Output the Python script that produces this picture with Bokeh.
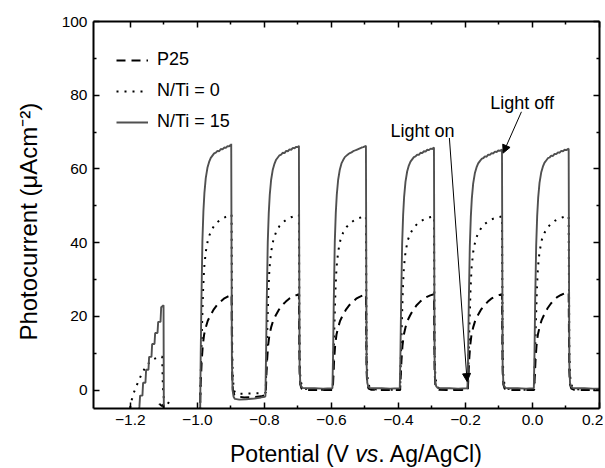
from bokeh.plotting import figure
from bokeh.models import (Range1d, LinearAxis, FixedTicker, Legend, LegendItem,
                          Label, Arrow, NormalHead, ColumnDataSource, Div)
from bokeh.layouts import column
from bokeh.embed import file_html
from bokeh.resources import INLINE

FONT = "Liberation Sans"

# ---------------- data ----------------
# N/Ti = 15 (solid grey)
ti15_x = [
    -1.176, -1.173, -1.171, -1.164, -1.162, -1.155, -1.153, -1.146, -1.144, -1.137,
    -1.135, -1.128, -1.126, -1.119, -1.117, -1.110, -1.108, -1.101, -1.100,
    -0.993, -0.992, -0.990, -0.988, -0.985, -0.982, -0.979, -0.975, -0.970, -0.965, -0.960,
    -0.955, -0.950, -0.945, -0.940, -0.935, -0.930, -0.925, -0.920, -0.915, -0.910,
    -0.905, -0.902, -0.900, -0.899, -0.898, -0.897, -0.895, -0.892, -0.888, -0.875,
    -0.855, -0.830, -0.810, -0.799,
    -0.797, -0.795, -0.793, -0.790, -0.787, -0.784, -0.780, -0.775, -0.770, -0.765,
    -0.760, -0.755, -0.750, -0.745, -0.740, -0.735, -0.730, -0.725, -0.720, -0.715,
    -0.710, -0.705, -0.700, -0.697, -0.696, -0.695, -0.693, -0.690, -0.686, -0.675,
    -0.650, -0.625, -0.598,
    -0.597, -0.595, -0.593, -0.590, -0.587, -0.584, -0.580, -0.575, -0.570, -0.565,
    -0.560, -0.555, -0.550, -0.545, -0.540, -0.535, -0.530, -0.525, -0.520, -0.515,
    -0.510, -0.505, -0.500, -0.497, -0.496, -0.495, -0.493, -0.490, -0.486, -0.475,
    -0.450, -0.425, -0.398,
    -0.396, -0.394, -0.392, -0.389, -0.386, -0.383, -0.379, -0.374, -0.369, -0.364,
    -0.359, -0.354, -0.349, -0.344, -0.339, -0.334, -0.329, -0.324, -0.319, -0.314,
    -0.309, -0.304, -0.299, -0.294, -0.293, -0.292, -0.290, -0.287, -0.283, -0.272,
    -0.247, -0.222, -0.196,
    -0.194, -0.192, -0.190, -0.187, -0.184, -0.181, -0.177, -0.172, -0.167, -0.162,
    -0.157, -0.152, -0.147, -0.142, -0.137, -0.132, -0.127, -0.122, -0.117, -0.112,
    -0.107, -0.102, -0.097, -0.091, -0.090, -0.089, -0.087, -0.084, -0.080, -0.069,
    -0.044, -0.019, 0.003,
    0.004, 0.006, 0.008, 0.011, 0.014, 0.017, 0.021, 0.026, 0.031, 0.036,
    0.041, 0.046, 0.051, 0.056, 0.061, 0.066, 0.071, 0.076, 0.081, 0.086,
    0.091, 0.096, 0.101, 0.108, 0.109, 0.110, 0.112, 0.115, 0.119, 0.130,
    0.155, 0.180, 0.200,
]
ti15_y = [
    -7, -4.5, -1.5, -1.5, 2, 2, 5.5, 5.5, 9, 9,
    12.5, 12.5, 15.5, 15.5, 18.5, 18.5, 22.5, 23, -8,
    -8, -8, 10, 24, 40.5, 48.5, 53.5, 57.5, 60.3, 61.9, 63.0,
    63.6, 64.2, 64.4, 64.9, 64.8, 65.4, 65.3, 65.8, 65.7, 66.2,
    66.1, 66.5, 66.4, 66.8, 35, 8, 0, -1.8, -2.4, -2.6,
    -2.5, -2.3, -2.0, -1.8,
    -1.7, 10, 24, 40, 48, 53, 57, 59.8, 61.4, 62.5,
    63.1, 63.7, 63.9, 64.4, 64.3, 64.9, 64.8, 65.3, 65.2, 65.7,
    65.6, 66.0, 65.9, 66.3, 33, 7, 2, 1, 0.6, 0.5,
    0.5, 0.4, 0.5,
    0.5, 10, 24, 40, 48, 53, 57, 59.8, 61.5, 62.4,
    63.2, 63.6, 64.0, 64.3, 64.5, 64.8, 65.0, 65.2, 65.4, 65.6,
    65.8, 65.9, 66.1, 66.3, 33, 7, 2, 1, 0.6, 0.5,
    0.5, 0.4, 0.5,
    0.5, 10, 24, 39.5, 47.5, 52.5, 56.5, 59.3, 60.9, 62.0,
    62.6, 63.2, 63.4, 63.9, 63.8, 64.4, 64.3, 64.8, 64.7, 65.2,
    65.1, 65.5, 65.4, 65.8, 33, 7, 2, 1, 0.6, 0.5,
    0.5, 0.4, 0.5,
    0.5, 10, 24, 39, 47, 52, 56, 58.8, 60.4, 61.5,
    62.1, 62.7, 62.9, 63.4, 63.3, 63.9, 63.8, 64.3, 64.2, 64.7,
    64.6, 65.0, 64.9, 65.3, 33, 7, 2, 1, 0.6, 0.5,
    0.5, 0.4, 0.5,
    0.5, 10, 24, 39, 47.2, 52.2, 56.2, 59.0, 60.6, 61.7,
    62.3, 62.9, 63.1, 63.6, 63.5, 64.1, 64.0, 64.5, 64.4, 64.9,
    64.8, 65.2, 65.1, 65.5, 33, 7, 2, 1, 0.6, 0.5,
    0.5, 0.4, 0.4,
]

# N/Ti = 0 (dotted)
ti0_x = [
    -1.205, -1.197, -1.190, -1.180, -1.170, -1.160, -1.150, -1.140, -1.130, -1.120,
    -1.110, -1.105, -1.103, -1.100, -1.092, -1.084, -1.078, -1.076,
    -0.992, -0.991, -0.989, -0.986, -0.983, -0.980, -0.975, -0.968, -0.960, -0.950,
    -0.940, -0.928, -0.915, -0.902, -0.898, -0.897, -0.896, -0.894, -0.891, -0.887,
    -0.880, -0.860, -0.830, -0.800,
    -0.796, -0.794, -0.791, -0.788, -0.785, -0.780, -0.773, -0.765, -0.755, -0.745,
    -0.733, -0.720, -0.707, -0.697, -0.696, -0.695, -0.693, -0.690, -0.686, -0.681,
    -0.669, -0.640, -0.598,
    -0.596, -0.594, -0.591, -0.588, -0.585, -0.580, -0.573, -0.565, -0.555, -0.545,
    -0.533, -0.520, -0.507, -0.497, -0.496, -0.495, -0.493, -0.490, -0.486, -0.481,
    -0.469, -0.440, -0.397,
    -0.395, -0.393, -0.390, -0.387, -0.384, -0.379, -0.372, -0.364, -0.354, -0.344,
    -0.332, -0.319, -0.306, -0.294, -0.293, -0.292, -0.290, -0.287, -0.283, -0.278,
    -0.266, -0.237, -0.195,
    -0.193, -0.191, -0.188, -0.185, -0.182, -0.177, -0.170, -0.162, -0.152, -0.142,
    -0.130, -0.117, -0.104, -0.091, -0.090, -0.089, -0.087, -0.084, -0.080, -0.075,
    -0.063, -0.034, 0.004,
    0.005, 0.007, 0.010, 0.013, 0.016, 0.021, 0.028, 0.036, 0.046, 0.056,
    0.068, 0.081, 0.094, 0.108, 0.109, 0.110, 0.112, 0.115, 0.119, 0.124,
    0.136, 0.165, 0.200,
]
ti0_y = [
    -7, -3, -0.8, 1.5, 3.6, 5.4, 6.8, 7.8, 8.4, 8.8,
    9.0, 9.1, 1, -2.5, -3.2, -3.6, -4.0, -8,
    -8, 0, 8, 18, 27, 33, 37.5, 41.0, 43.0, 44.6,
    45.6, 46.4, 47.0, 47.4, 47.6, 28, 10, 3, 0, -0.8,
    -1.0, -1.0, -0.9, -0.8,
    -0.7, 8, 18, 27, 33, 37.5, 40.9, 42.9, 44.5, 45.5,
    46.3, 46.9, 47.3, 47.5, 28, 10, 4, 1.8, 0.8, 0.4,
    0.2, 0.1, 0.1,
    0.1, 8, 18, 27, 33, 37.5, 40.8, 42.7, 44.2, 45.2,
    46.0, 46.6, 47.0, 47.2, 28, 10, 4, 1.8, 0.8, 0.4,
    0.2, 0.1, 0.1,
    0.1, 8, 18, 27, 33, 37.4, 40.7, 42.6, 44.1, 45.1,
    45.9, 46.5, 46.9, 47.1, 28, 10, 4, 1.8, 0.8, 0.4,
    0.2, 0.1, 0.1,
    0.1, 8, 18, 27, 33, 37.4, 40.7, 42.6, 44.1, 45.1,
    45.9, 46.5, 46.9, 47.1, 28, 10, 4, 1.8, 0.8, 0.4,
    0.2, 0.1, 0.1,
    0.1, 8, 18, 27, 33, 37.5, 40.8, 42.7, 44.2, 45.2,
    46.0, 46.6, 47.0, 47.2, 28, 10, 4, 1.8, 0.8, 0.4,
    0.2, 0.1, 0.1,
]

# P25 (dashed)
p25_x = [
    -1.118, -1.113, -1.106, -1.101, -1.099,
    -0.992, -0.991, -0.989, -0.987, -0.984, -0.980, -0.975, -0.969, -0.961, -0.951,
    -0.941, -0.931, -0.921, -0.911, -0.901, -0.898, -0.897, -0.896, -0.894, -0.890,
    -0.883, -0.860, -0.830, -0.810, -0.799,
    -0.796, -0.794, -0.792, -0.789, -0.785, -0.780, -0.774, -0.766, -0.756, -0.746,
    -0.736, -0.726, -0.716, -0.706, -0.697, -0.696, -0.695, -0.693, -0.689, -0.682,
    -0.657, -0.627, -0.598,
    -0.596, -0.594, -0.592, -0.589, -0.585, -0.580, -0.574, -0.566, -0.556, -0.546,
    -0.536, -0.526, -0.516, -0.506, -0.497, -0.496, -0.495, -0.493, -0.489, -0.482,
    -0.457, -0.427, -0.397,
    -0.395, -0.393, -0.391, -0.388, -0.384, -0.379, -0.373, -0.365, -0.355, -0.345,
    -0.335, -0.325, -0.315, -0.305, -0.294, -0.293, -0.292, -0.290, -0.286, -0.279,
    -0.254, -0.224, -0.195,
    -0.193, -0.191, -0.189, -0.186, -0.182, -0.177, -0.171, -0.163, -0.153, -0.143,
    -0.133, -0.123, -0.113, -0.103, -0.091, -0.090, -0.089, -0.087, -0.083, -0.076,
    -0.051, -0.021, 0.004,
    0.005, 0.007, 0.009, 0.012, 0.016, 0.021, 0.027, 0.035, 0.045, 0.055,
    0.065, 0.075, 0.085, 0.095, 0.108, 0.109, 0.110, 0.112, 0.116, 0.123,
    0.148, 0.175, 0.200,
]
p25_y = [
    -8, -3.8, -4.3, -3.9, -8,
    -8, 0, 4, 8, 12, 15, 17, 18.8, 20.3, 21.9,
    23.1, 24.0, 24.8, 25.3, 25.7, 26.0, 14, 4, 0, -1.2,
    -1.7, -2.0, -1.9, -1.7, -1.4,
    -1.2, 4, 8, 12, 15, 17, 18.8, 20.3, 21.9, 23.1,
    24.0, 24.8, 25.3, 25.7, 26.0, 14, 5, 1.5, 0.4, 0.1,
    0, 0, 0,
    0, 4, 8, 12, 15, 17, 18.8, 20.3, 21.9, 23.1,
    24.0, 24.8, 25.3, 25.7, 26.0, 14, 5, 1.5, 0.4, 0.1,
    0, 0, 0,
    0, 4, 8, 12, 15, 17, 18.8, 20.3, 21.9, 23.1,
    24.0, 24.8, 25.3, 25.7, 26.0, 14, 5, 1.5, 0.4, 0.1,
    0, 0, 0,
    0, 4, 8, 12, 15, 17, 18.8, 20.3, 21.9, 23.1,
    24.0, 24.8, 25.3, 25.7, 26.0, 14, 5, 1.5, 0.4, 0.1,
    0, 0, 0,
    0, 4, 8, 12, 15, 17, 18.9, 20.5, 22.2, 23.5,
    24.5, 25.3, 25.8, 26.2, 26.5, 14, 5, 1.5, 0.4, 0.1,
    0, 0, 0,
]

assert len(ti15_x) == len(ti15_y)
assert len(ti0_x) == len(ti0_y)
assert len(p25_x) == len(p25_y)

series_labels = ["P25", "N/Ti = 0", "N/Ti = 15"]

x_ticks = [-1.2, -1.0, -0.8, -0.6, -0.4, -0.2, 0.0, 0.2]
x_tick_labels = ["\u22121.2", "\u22121.0", "\u22120.8", "\u22120.6", "\u22120.4", "\u22120.2", "0.0", "0.2"]
x_minor = [-1.1, -0.9, -0.7, -0.5, -0.3, -0.1, 0.1]
y_ticks = [0, 20, 40, 60, 80, 100]
y_tick_labels = ["0", "20", "40", "60", "80", "100"]
y_minor = [10, 30, 50, 70, 90]

# annotation anchors (data units)
light_on_text = (-0.328, 70.4)
light_on_arrow = (-0.248, 68.4, -0.195, 2.3)
light_off_text = (-0.031, 78.0)
light_off_arrow = (-0.033, 75.5, -0.0875, 64.3)

# ---------------- figure ----------------
p = figure(frame_width=506, frame_height=387,
           x_range=Range1d(-1.31, 0.2), y_range=Range1d(-5, 100),
           output_backend="svg", toolbar_location=None)
p.min_border_left = 93
p.min_border_right = 4
p.min_border_top = 21
p.min_border_bottom = 29
p.xgrid.visible = False
p.ygrid.visible = False
p.outline_line_color = None
p.background_fill_color = "white"
p.border_fill_color = "white"

bottom_axis = p.below[0]
left_axis = p.left[0]
top_axis = LinearAxis()
right_axis = LinearAxis()
p.add_layout(top_axis, "above")
p.add_layout(right_axis, "right")


def style_axis(ax, ticks, minor, labels, show):
    ax.ticker = FixedTicker(ticks=ticks, minor_ticks=minor)
    ax.axis_line_width = 2
    ax.axis_line_color = "black"
    ax.major_tick_in = 6
    ax.major_tick_out = 0
    ax.minor_tick_in = 3
    ax.minor_tick_out = 0
    ax.major_tick_line_width = 1.5
    ax.minor_tick_line_width = 1.5
    ax.major_tick_line_color = "black"
    ax.minor_tick_line_color = "black"
    ax.major_label_text_font = FONT
    ax.major_label_text_color = "black"
    ax.major_label_text_font_size = "15.5px"
    if show:
        ax.major_label_overrides = dict(zip(ticks, labels))
        ax.major_label_standoff = 6
    else:
        ax.major_label_overrides = {t: "" for t in ticks}
        ax.major_label_standoff = 0


style_axis(bottom_axis, x_ticks, x_minor, x_tick_labels, True)
style_axis(top_axis, x_ticks, x_minor, x_tick_labels, False)
style_axis(left_axis, y_ticks, y_minor, y_tick_labels, True)
style_axis(right_axis, y_ticks, y_minor, y_tick_labels, False)

left_axis.axis_label = "Photocurrent (\u03bcAcm\u207b\u00b2)\u00a0\u00a0"
left_axis.axis_label_text_font = FONT
left_axis.axis_label_text_font_size = "24px"
left_axis.axis_label_text_font_style = "normal"
left_axis.axis_label_text_color = "black"
left_axis.axis_label_standoff = 17

# ---------------- curves ----------------
r_p25 = p.line(x="x", y="y", source=ColumnDataSource(dict(x=p25_x, y=p25_y)),
               line_color="black", line_width=2, line_dash="9 6")
r_ti0 = p.line(x="x", y="y", source=ColumnDataSource(dict(x=ti0_x, y=ti0_y)),
               line_color="black", line_width=2, line_dash="2 6")
r_ti15 = p.line(x="x", y="y", source=ColumnDataSource(dict(x=ti15_x, y=ti15_y)),
                line_color="#505050", line_width=1.9)

legend = Legend(items=[LegendItem(label=series_labels[0], renderers=[r_p25]),
                       LegendItem(label=series_labels[1], renderers=[r_ti0]),
                       LegendItem(label=series_labels[2], renderers=[r_ti15])],
                location=(23, 276))
legend.border_line_color = None
legend.background_fill_alpha = 0
legend.label_text_font = FONT
legend.label_text_font_size = "18px"
legend.label_text_color = "black"
legend.glyph_width = 32
legend.glyph_height = 20
legend.label_height = 20
legend.spacing = 10
legend.padding = 0
legend.margin = 0
legend.label_standoff = 9
p.add_layout(legend)

# ---------------- annotations ----------------
p.add_layout(Label(x=light_on_text[0], y=light_on_text[1], text="Light on",
                   text_font=FONT, text_font_size="18px", text_align="center",
                   text_baseline="alphabetic", text_color="black"))
p.add_layout(Label(x=light_off_text[0], y=light_off_text[1], text="Light off",
                   text_font=FONT, text_font_size="18px", text_align="center",
                   text_baseline="alphabetic", text_color="black"))
p.add_layout(Arrow(x_start=light_on_arrow[0], y_start=light_on_arrow[1],
                   x_end=light_on_arrow[2], y_end=light_on_arrow[3],
                   line_width=1, line_color="black",
                   end=NormalHead(size=8, line_width=1, fill_color="black", line_color="black")))
p.add_layout(Arrow(x_start=light_off_arrow[0], y_start=light_off_arrow[1],
                   x_end=light_off_arrow[2], y_end=light_off_arrow[3],
                   line_width=1, line_color="black",
                   end=NormalHead(size=8, line_width=1, fill_color="black", line_color="black")))

# x axis title (HTML, so that "vs." can be italic)
x_title = Div(
    text=('<div style="padding-left:230px;padding-top:6px;white-space:nowrap;'
          'font-family:\'Liberation Sans\';font-size:23px;line-height:23px;color:black;">'
          'Potential (V <i>vs</i>. Ag/AgCl)</div>'),
    width=603, height=29, margin=(0, 0, 0, 0))

layout = column(p, x_title, spacing=0)

open("out.html", "w").write(file_html(layout, INLINE))
